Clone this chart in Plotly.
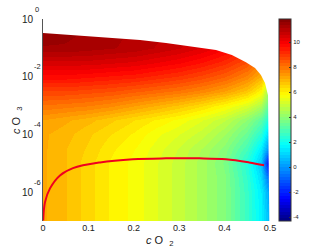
import plotly.graph_objects as go

# Heatmap grid
x_grid = [0, .05, .1, .15, .2, .25, .3, .35, .4, .45, .48, .5]
y_grid = [1, 3.16e-1, 1e-1, 3.16e-2, 1e-2, 3.16e-3, 1e-3, 3.16e-4, 1e-4, 3.16e-5, 1e-5, 3.16e-6, 1e-6, 1e-7]
z_grid = [
    [11.5, 11.4, 11.3, 11.2, 11.0, 10.9, 10.8, 10.6, 10.4, 10.0, 9.5, 9.0],
    [11.5, 11.4, 11.3, 11.2, 11.0, 10.9, 10.8, 10.6, 10.4, 10.0, 9.5, 9.0],
    [11.3, 11.3, 11.2, 11.1, 11.0, 10.8, 10.6, 10.3, 9.9, 9.3, 8.8, 8.0],
    [10.5, 10.5, 10.5, 10.4, 10.3, 10.1, 9.9, 9.6, 9.2, 8.6, 7.8, 7.0],
    [9.7, 9.7, 9.6, 9.5, 9.4, 9.2, 9.0, 8.7, 8.3, 7.7, 7.0, 5.5],
    [8.8, 8.8, 8.7, 8.6, 8.4, 8.2, 8.0, 7.7, 7.3, 6.7, 5.9, 4.0],
    [8.0, 7.9, 7.8, 7.6, 7.3, 7.0, 6.7, 6.3, 5.8, 5.2, 4.5, 3.0],
    [7.3, 7.1, 6.9, 6.6, 6.3, 6.0, 5.7, 5.3, 4.8, 4.0, 3.2, 2.0],
    [7.1, 6.9, 6.6, 6.3, 6.0, 5.6, 5.3, 4.9, 4.3, 3.4, 2.4, 0.8],
    [7.1, 6.8, 6.5, 6.1, 5.8, 5.4, 5.0, 4.5, 3.9, 2.8, 1.5, -0.5],
    [7.1, 6.8, 6.4, 6.0, 5.7, 5.3, 4.9, 4.4, 3.7, 2.3, 0.8, -3.0],
    [7.1, 6.8, 6.4, 6.0, 5.7, 5.3, 4.9, 4.4, 3.8, 2.5, 1.2, -1.0],
    [7.1, 6.8, 6.4, 6.0, 5.7, 5.3, 4.9, 4.4, 3.8, 2.6, 1.5, 0.0],
    [7.1, 6.8, 6.4, 6.0, 5.7, 5.3, 4.9, 4.4, 3.8, 2.6, 1.6, 0.5],
]

# Upper edge of the coloured region
edge_x = [0, .0815, .163, .2137, .271, .324, .381, .416, .447, .467, .48, .489, .4956, .4985, .5, .5, 0, 0]
edge_y = [.327, .267, .219, .187, .147, .115, .084, .056, .032, .02, .0114, .006, .0023, 1e-7, 1e-7, 1, 1, .327]

# Red curve
curve_x = [.0005, .0044, .0154, .0374, .066, .1256, .198, .271, .344, .403, .454, .487]
curve_y = [1.05e-7, 4.5e-7, 1.35e-6, 3.8e-6, 6.8e-6, 1.07e-5, 1.38e-5, 1.48e-5, 1.48e-5, 1.38e-5, 1.07e-5, 8.5e-6]

y_ticks = [1, 1e-2, 1e-4, 1e-6]
y_ticktext = ["10", "10", "10", "10"]
y_exp_pos = [0, -2, -4, -6]
y_exponents = ["0", "-2", "-4", "-6"]
x_ticks = [0, .1, .2, .3, .4, .5]
x_ticktext = ["0", "0.1", "0.2", "0.3", "0.4", "0.5"]
cb_ticks = [-4, -2, 0, 2, 4, 6, 8, 10]
cb_text = ["-4", "-2", "0", "2", "4", "6", "8", "10"]
z_min, z_max = -4.3, 11.84

jet = [(0, (0, 0, 128)), (.11, (0, 0, 255)), (.375, (0, 255, 255)), (.625, (255, 255, 0)),
       (.875, (255, 0, 0)), (1, (128, 0, 0))]


def jet_at(t):
    for (a, ca), (b, cb) in zip(jet, jet[1:]):
        if t <= b:
            f = (t - a) / (b - a)
            return "rgb(%d,%d,%d)" % tuple(round(p + (q - p) * f) for p, q in zip(ca, cb))
    return "rgb(128,0,0)"


N = 64
stepped = []
for i in range(N):
    c = jet_at((i + .5) / N)
    stepped += [[i / N, c], [(i + 1) / N, c]]

fig = go.Figure()
fig.add_trace(go.Heatmap(
    x=x_grid, y=y_grid, z=z_grid, zmin=z_min, zmax=z_max, zsmooth="best",
    colorscale=stepped,
    colorbar=dict(x=1.04, xanchor="left", xpad=0, thickness=12, thicknessmode="pixels",
                  y=1, yanchor="top", ypad=0, len=1.0, lenmode="fraction",
                  tickvals=cb_ticks, ticktext=cb_text, ticks="inside", ticklen=2,
                  tickcolor="#333", outlinecolor="#333", outlinewidth=1,
                  tickfont=dict(size=6, color="#222", family="Liberation Sans")),
))
fig.add_trace(go.Scatter(x=edge_x, y=edge_y, mode="lines", fill="toself", fillcolor="white",
                         line=dict(width=0), hoverinfo="skip", showlegend=False))
fig.add_trace(go.Scatter(x=curve_x, y=curve_y, mode="lines", line=dict(color="#f0001e", width=2, shape="spline"),
                         showlegend=False))

fig.update_layout(
    width=332, height=249, margin=dict(l=43, r=62, t=19, b=28),
    paper_bgcolor="white", plot_bgcolor="white", showlegend=False,
    font=dict(family="Liberation Sans", size=9, color="#222"),
)
fig.update_xaxes(range=[0, .5], tickvals=x_ticks, ticktext=x_ticktext, showgrid=False, zeroline=False,
                 ticks="", showline=False, tickfont=dict(size=9), automargin=False)
fig.update_yaxes(type="log", range=[-7, 0], tickvals=y_ticks, ticktext=y_ticktext, showgrid=False,
                 zeroline=False, ticks="", showline=True, linecolor="#555", linewidth=1,
                 tickfont=dict(size=10), automargin=False, ticklabelstandoff=7)

annots = []
for v, e in zip(y_exp_pos, y_exponents):
    annots.append(dict(x=0, y=v, xref="x", yref="y", text=e, showarrow=False,
                       xshift=-6, yshift=10, font=dict(size=7.5, color="#222"), xanchor="center", yanchor="middle"))
annots.append(dict(xref="paper", yref="paper", x=.5, y=0, yshift=-20, xshift=3, showarrow=False,
                   xanchor="center", yanchor="middle",
                   text="<i>c</i> O  <sub>2</sub>", font=dict(size=11, color="#222")))
annots.append(dict(xref="paper", yref="paper", x=0, y=.5, xshift=-26, yshift=0, showarrow=False, textangle=-90,
                   xanchor="center", yanchor="middle",
                   text="<i>c</i> O  <sub>3</sub>", font=dict(size=11, color="#222")))
fig.update_layout(annotations=annots)

fig.write_html("out.html", post_script="document.body.style.margin='0';", config={"displayModeBar": False})
